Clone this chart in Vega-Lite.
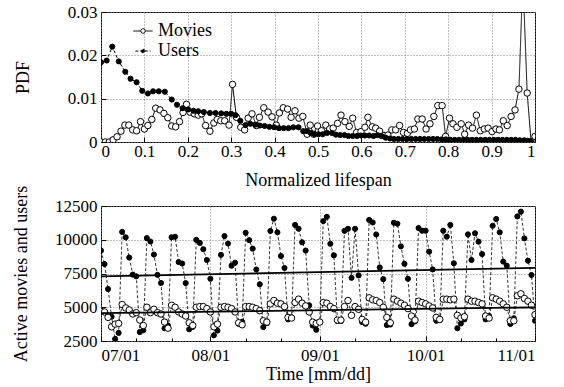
{
"$schema":"https://vega.github.io/schema/vega-lite/v6.json",
"background":"white",
"padding":{"left":12,"top":2,"right":5,"bottom":0},
"spacing":64,
"bounds":"flush",
"config":{
 "font":"Liberation Serif",
 "view":{"stroke":"black","strokeWidth":1},
 "axis":{"labelFont":"Liberation Serif","titleFont":"Liberation Serif","labelFontSize":17,"titleFontSize":18,"titleFontWeight":"normal","labelColor":"black","titleColor":"black","tickColor":"black","domain":false,"grid":true,"gridColor":"#808080","gridDash":[1,2],"gridWidth":1,"tickSize":-5,"labelPadding":9},
 "legend":{"labelFont":"Liberation Serif","labelFontSize":18,"labelColor":"black"}
},
"datasets":{
"pdf":[
{"s":"Movies","x":0,"p":0},{"s":"Movies","x":0.01,"p":0},{"s":"Movies","x":0.019,"p":0},{"s":"Movies","x":0.028,"p":0.0005},{"s":"Movies","x":0.037,"p":0.0012},{"s":"Movies","x":0.046,"p":0.0025},{"s":"Movies","x":0.055,"p":0.0039},{"s":"Movies","x":0.064,"p":0.0039},{"s":"Movies","x":0.073,"p":0.0028},{"s":"Movies","x":0.082,"p":0.0026},{"s":"Movies","x":0.091,"p":0.0047},{"s":"Movies","x":0.1,"p":0.003},{"s":"Movies","x":0.108,"p":0.0038},{"s":"Movies","x":0.117,"p":0.0052},{"s":"Movies","x":0.126,"p":0.0078},{"s":"Movies","x":0.136,"p":0.0074},{"s":"Movies","x":0.145,"p":0.0066},{"s":"Movies","x":0.154,"p":0.0056},{"s":"Movies","x":0.163,"p":0.0037},{"s":"Movies","x":0.172,"p":0.0035},{"s":"Movies","x":0.181,"p":0.0047},{"s":"Movies","x":0.189,"p":0.0068},{"s":"Movies","x":0.197,"p":0.0087},{"s":"Movies","x":0.205,"p":0.0069},{"s":"Movies","x":0.215,"p":0.0065},{"s":"Movies","x":0.224,"p":0.0062},{"s":"Movies","x":0.232,"p":0.0065},{"s":"Movies","x":0.241,"p":0.0038},{"s":"Movies","x":0.251,"p":0.0025},{"s":"Movies","x":0.26,"p":0.0044},{"s":"Movies","x":0.268,"p":0.0052},{"s":"Movies","x":0.276,"p":0.0049},{"s":"Movies","x":0.285,"p":0.0049},{"s":"Movies","x":0.295,"p":0.0039},{"s":"Movies","x":0.303,"p":0.0133},{"s":"Movies","x":0.312,"p":0.0057},{"s":"Movies","x":0.322,"p":0.0034},{"s":"Movies","x":0.331,"p":0.0028},{"s":"Movies","x":0.339,"p":0.0055},{"s":"Movies","x":0.348,"p":0.0065},{"s":"Movies","x":0.358,"p":0.0038},{"s":"Movies","x":0.365,"p":0.0057},{"s":"Movies","x":0.375,"p":0.0079},{"s":"Movies","x":0.385,"p":0.0069},{"s":"Movies","x":0.394,"p":0.0058},{"s":"Movies","x":0.404,"p":0.0039},{"s":"Movies","x":0.411,"p":0.0067},{"s":"Movies","x":0.42,"p":0.0079},{"s":"Movies","x":0.43,"p":0.0076},{"s":"Movies","x":0.438,"p":0.0057},{"s":"Movies","x":0.447,"p":0.0072},{"s":"Movies","x":0.456,"p":0.0055},{"s":"Movies","x":0.465,"p":0.0059},{"s":"Movies","x":0.475,"p":0.0018},{"s":"Movies","x":0.482,"p":0.0039},{"s":"Movies","x":0.49,"p":0.0018},{"s":"Movies","x":0.499,"p":0.0037},{"s":"Movies","x":0.508,"p":0.0026},{"s":"Movies","x":0.518,"p":0.0039},{"s":"Movies","x":0.527,"p":0.003},{"s":"Movies","x":0.535,"p":0.0032},{"s":"Movies","x":0.545,"p":0.0043},{"s":"Movies","x":0.553,"p":0.0062},{"s":"Movies","x":0.562,"p":0.0047},{"s":"Movies","x":0.572,"p":0.0036},{"s":"Movies","x":0.58,"p":0.0055},{"s":"Movies","x":0.589,"p":0.0022},{"s":"Movies","x":0.599,"p":0.0024},{"s":"Movies","x":0.608,"p":0.0034},{"s":"Movies","x":0.615,"p":0.0057},{"s":"Movies","x":0.625,"p":0.0035},{"s":"Movies","x":0.633,"p":0.0032},{"s":"Movies","x":0.642,"p":0.0025},{"s":"Movies","x":0.652,"p":0.0015},{"s":"Movies","x":0.661,"p":0.0016},{"s":"Movies","x":0.67,"p":0.0028},{"s":"Movies","x":0.679,"p":0.0028},{"s":"Movies","x":0.688,"p":0.0038},{"s":"Movies","x":0.697,"p":0.0022},{"s":"Movies","x":0.706,"p":0.002},{"s":"Movies","x":0.713,"p":0.0028},{"s":"Movies","x":0.722,"p":0.003},{"s":"Movies","x":0.73,"p":0.0053},{"s":"Movies","x":0.74,"p":0.0053},{"s":"Movies","x":0.749,"p":0.003},{"s":"Movies","x":0.758,"p":0.0042},{"s":"Movies","x":0.767,"p":0.0059},{"s":"Movies","x":0.776,"p":0.0084},{"s":"Movies","x":0.786,"p":0.0084},{"s":"Movies","x":0.794,"p":0.0013},{"s":"Movies","x":0.803,"p":0.0055},{"s":"Movies","x":0.811,"p":0.0042},{"s":"Movies","x":0.82,"p":0.0034},{"s":"Movies","x":0.83,"p":0.0042},{"s":"Movies","x":0.838,"p":0.0018},{"s":"Movies","x":0.847,"p":0.0039},{"s":"Movies","x":0.856,"p":0.0032},{"s":"Movies","x":0.865,"p":0.0062},{"s":"Movies","x":0.874,"p":0.0026},{"s":"Movies","x":0.883,"p":0.003},{"s":"Movies","x":0.892,"p":0.0032},{"s":"Movies","x":0.901,"p":0.0024},{"s":"Movies","x":0.91,"p":0.003},{"s":"Movies","x":0.918,"p":0.0028},{"s":"Movies","x":0.927,"p":0.0049},{"s":"Movies","x":0.936,"p":0.0038},{"s":"Movies","x":0.945,"p":0.0059},{"s":"Movies","x":0.954,"p":0.0074},{"s":"Movies","x":0.963,"p":0.0122},{"s":"Movies","x":0.972,"p":0.038},{"s":"Movies","x":0.982,"p":0.0113},{"s":"Movies","x":0.991,"p":0.0001},{"s":"Movies","x":1,"p":0.0013},
{"s":"Users","x":0,"p":0.0184},{"s":"Users","x":0.013,"p":0.0188},{"s":"Users","x":0.026,"p":0.022},{"s":"Users","x":0.041,"p":0.0186},{"s":"Users","x":0.056,"p":0.0162},{"s":"Users","x":0.068,"p":0.0146},{"s":"Users","x":0.082,"p":0.0138},{"s":"Users","x":0.095,"p":0.0118},{"s":"Users","x":0.108,"p":0.0112},{"s":"Users","x":0.12,"p":0.0117},{"s":"Users","x":0.133,"p":0.0117},{"s":"Users","x":0.147,"p":0.0116},{"s":"Users","x":0.163,"p":0.0098},{"s":"Users","x":0.175,"p":0.0086},{"s":"Users","x":0.188,"p":0.0078},{"s":"Users","x":0.201,"p":0.0075},{"s":"Users","x":0.213,"p":0.0072},{"s":"Users","x":0.224,"p":0.0071},{"s":"Users","x":0.237,"p":0.0069},{"s":"Users","x":0.251,"p":0.0067},{"s":"Users","x":0.264,"p":0.0067},{"s":"Users","x":0.277,"p":0.0066},{"s":"Users","x":0.289,"p":0.0065},{"s":"Users","x":0.3,"p":0.0065},{"s":"Users","x":0.31,"p":0.0062},{"s":"Users","x":0.321,"p":0.0049},{"s":"Users","x":0.333,"p":0.0039},{"s":"Users","x":0.344,"p":0.0042},{"s":"Users","x":0.355,"p":0.004},{"s":"Users","x":0.366,"p":0.0038},{"s":"Users","x":0.377,"p":0.0037},{"s":"Users","x":0.388,"p":0.0035},{"s":"Users","x":0.399,"p":0.0034},{"s":"Users","x":0.41,"p":0.0032},{"s":"Users","x":0.421,"p":0.0032},{"s":"Users","x":0.432,"p":0.0032},{"s":"Users","x":0.443,"p":0.0034},{"s":"Users","x":0.455,"p":0.0034},{"s":"Users","x":0.466,"p":0.0025},{"s":"Users","x":0.475,"p":0.0025},{"s":"Users","x":0.483,"p":0.0021},{"s":"Users","x":0.492,"p":0.0018},{"s":"Users","x":0.501,"p":0.0018},{"s":"Users","x":0.511,"p":0.0018},{"s":"Users","x":0.521,"p":0.0021},{"s":"Users","x":0.532,"p":0.0021},{"s":"Users","x":0.541,"p":0.0017},{"s":"Users","x":0.551,"p":0.0016},{"s":"Users","x":0.561,"p":0.0016},{"s":"Users","x":0.57,"p":0.0014},{"s":"Users","x":0.58,"p":0.0014},{"s":"Users","x":0.59,"p":0.0014},{"s":"Users","x":0.599,"p":0.0015},{"s":"Users","x":0.608,"p":0.0015},{"s":"Users","x":0.618,"p":0.0015},{"s":"Users","x":0.628,"p":0.0014},{"s":"Users","x":0.637,"p":0.0016},{"s":"Users","x":0.646,"p":0.0014},{"s":"Users","x":0.656,"p":0.001},{"s":"Users","x":0.666,"p":0.0008},{"s":"Users","x":0.675,"p":0.0007},{"s":"Users","x":0.685,"p":0.0007},{"s":"Users","x":0.695,"p":0.0007},{"s":"Users","x":0.705,"p":0.0007},{"s":"Users","x":0.715,"p":0.0007},{"s":"Users","x":0.725,"p":0.0007},{"s":"Users","x":0.735,"p":0.0007},{"s":"Users","x":0.745,"p":0.0007},{"s":"Users","x":0.755,"p":0.0007},{"s":"Users","x":0.765,"p":0.0007},{"s":"Users","x":0.775,"p":0.0007},{"s":"Users","x":0.785,"p":0.0006},{"s":"Users","x":0.795,"p":0.0006},{"s":"Users","x":0.805,"p":0.0005},{"s":"Users","x":0.815,"p":0.0005},{"s":"Users","x":0.825,"p":0.0005},{"s":"Users","x":0.835,"p":0.0005},{"s":"Users","x":0.845,"p":0.0005},{"s":"Users","x":0.855,"p":0.0005},{"s":"Users","x":0.865,"p":0.0005},{"s":"Users","x":0.875,"p":0.0005},{"s":"Users","x":0.885,"p":0.0005},{"s":"Users","x":0.895,"p":0.0005},{"s":"Users","x":0.905,"p":0.0005},{"s":"Users","x":0.915,"p":0.0005},{"s":"Users","x":0.925,"p":0.0005},{"s":"Users","x":0.935,"p":0.0005},{"s":"Users","x":0.945,"p":0.0005},{"s":"Users","x":0.955,"p":0.0005},{"s":"Users","x":0.965,"p":0.0004},{"s":"Users","x":0.975,"p":0.0004},{"s":"Users","x":0.983,"p":0.0003},{"s":"Users","x":0.991,"p":0}
],
"act":[
{"s":"Users","d":"2008-07-01","v":9200},{"s":"Users","d":"2008-07-02","v":8200},{"s":"Users","d":"2008-07-03","v":6350},{"s":"Users","d":"2008-07-04","v":4300},{"s":"Users","d":"2008-07-05","v":2650},{"s":"Users","d":"2008-07-06","v":3100},{"s":"Users","d":"2008-07-07","v":10580},{"s":"Users","d":"2008-07-08","v":10180},{"s":"Users","d":"2008-07-09","v":8680},{"s":"Users","d":"2008-07-10","v":7420},{"s":"Users","d":"2008-07-11","v":7290},{"s":"Users","d":"2008-07-12","v":3160},{"s":"Users","d":"2008-07-13","v":3300},{"s":"Users","d":"2008-07-14","v":10120},{"s":"Users","d":"2008-07-15","v":9870},{"s":"Users","d":"2008-07-16","v":8900},{"s":"Users","d":"2008-07-17","v":7400},{"s":"Users","d":"2008-07-18","v":6800},{"s":"Users","d":"2008-07-19","v":3440},{"s":"Users","d":"2008-07-20","v":3640},{"s":"Users","d":"2008-07-21","v":10180},{"s":"Users","d":"2008-07-22","v":10220},{"s":"Users","d":"2008-07-23","v":8350},{"s":"Users","d":"2008-07-24","v":8240},{"s":"Users","d":"2008-07-25","v":6790},{"s":"Users","d":"2008-07-26","v":3370},{"s":"Users","d":"2008-07-27","v":3540},{"s":"Users","d":"2008-07-28","v":9990},{"s":"Users","d":"2008-07-29","v":9770},{"s":"Users","d":"2008-07-30","v":9300},{"s":"Users","d":"2008-07-31","v":8500},
{"s":"Users","d":"2008-08-01","v":7110},{"s":"Users","d":"2008-08-02","v":2920},{"s":"Users","d":"2008-08-03","v":3270},{"s":"Users","d":"2008-08-04","v":8880},{"s":"Users","d":"2008-08-05","v":10270},{"s":"Users","d":"2008-08-06","v":9720},{"s":"Users","d":"2008-08-07","v":8080},{"s":"Users","d":"2008-08-08","v":8300},{"s":"Users","d":"2008-08-09","v":3780},{"s":"Users","d":"2008-08-10","v":3920},{"s":"Users","d":"2008-08-11","v":10520},{"s":"Users","d":"2008-08-12","v":9970},{"s":"Users","d":"2008-08-13","v":9340},{"s":"Users","d":"2008-08-14","v":7800},{"s":"Users","d":"2008-08-15","v":6700},{"s":"Users","d":"2008-08-16","v":3530},{"s":"Users","d":"2008-08-17","v":3820},{"s":"Users","d":"2008-08-18","v":10650},{"s":"Users","d":"2008-08-19","v":11560},{"s":"Users","d":"2008-08-20","v":10550},{"s":"Users","d":"2008-08-21","v":8800},{"s":"Users","d":"2008-08-22","v":7910},{"s":"Users","d":"2008-08-23","v":4100},{"s":"Users","d":"2008-08-24","v":4250},{"s":"Users","d":"2008-08-25","v":11100},{"s":"Users","d":"2008-08-26","v":10820},{"s":"Users","d":"2008-08-27","v":9810},{"s":"Users","d":"2008-08-28","v":9200},{"s":"Users","d":"2008-08-29","v":5150},{"s":"Users","d":"2008-08-30","v":3640},{"s":"Users","d":"2008-08-31","v":3330},
{"s":"Users","d":"2008-09-01","v":3920},{"s":"Users","d":"2008-09-02","v":11380},{"s":"Users","d":"2008-09-03","v":11700},{"s":"Users","d":"2008-09-04","v":9700},{"s":"Users","d":"2008-09-05","v":8850},{"s":"Users","d":"2008-09-06","v":3990},{"s":"Users","d":"2008-09-07","v":3990},{"s":"Users","d":"2008-09-08","v":10660},{"s":"Users","d":"2008-09-09","v":10810},{"s":"Users","d":"2008-09-10","v":7180},{"s":"Users","d":"2008-09-11","v":10810},{"s":"Users","d":"2008-09-12","v":7360},{"s":"Users","d":"2008-09-13","v":3900},{"s":"Users","d":"2008-09-14","v":3780},{"s":"Users","d":"2008-09-15","v":11470},{"s":"Users","d":"2008-09-16","v":11280},{"s":"Users","d":"2008-09-17","v":10390},{"s":"Users","d":"2008-09-18","v":7950},{"s":"Users","d":"2008-09-19","v":7080},{"s":"Users","d":"2008-09-20","v":3680},{"s":"Users","d":"2008-09-21","v":3720},{"s":"Users","d":"2008-09-22","v":11260},{"s":"Users","d":"2008-09-23","v":11190},{"s":"Users","d":"2008-09-24","v":9510},{"s":"Users","d":"2008-09-25","v":8220},{"s":"Users","d":"2008-09-26","v":7110},{"s":"Users","d":"2008-09-27","v":3750},{"s":"Users","d":"2008-09-28","v":3950},{"s":"Users","d":"2008-09-29","v":10870},{"s":"Users","d":"2008-09-30","v":10670},
{"s":"Users","d":"2008-10-01","v":10670},{"s":"Users","d":"2008-10-02","v":9120},{"s":"Users","d":"2008-10-03","v":7800},{"s":"Users","d":"2008-10-04","v":4000},{"s":"Users","d":"2008-10-05","v":4050},{"s":"Users","d":"2008-10-06","v":10670},{"s":"Users","d":"2008-10-07","v":10230},{"s":"Users","d":"2008-10-08","v":11100},{"s":"Users","d":"2008-10-09","v":8260},{"s":"Users","d":"2008-10-10","v":3450},{"s":"Users","d":"2008-10-11","v":3800},{"s":"Users","d":"2008-10-12","v":4100},{"s":"Users","d":"2008-10-13","v":10400},{"s":"Users","d":"2008-10-14","v":8500},{"s":"Users","d":"2008-10-15","v":10480},{"s":"Users","d":"2008-10-16","v":9860},{"s":"Users","d":"2008-10-17","v":8940},{"s":"Users","d":"2008-10-18","v":4100},{"s":"Users","d":"2008-10-19","v":4350},{"s":"Users","d":"2008-10-20","v":11040},{"s":"Users","d":"2008-10-21","v":11540},{"s":"Users","d":"2008-10-22","v":10550},{"s":"Users","d":"2008-10-23","v":8380},{"s":"Users","d":"2008-10-24","v":8080},{"s":"Users","d":"2008-10-25","v":3760},{"s":"Users","d":"2008-10-26","v":4180},{"s":"Users","d":"2008-10-27","v":11730},{"s":"Users","d":"2008-10-28","v":12080},{"s":"Users","d":"2008-10-29","v":10100},{"s":"Users","d":"2008-10-30","v":8450},{"s":"Users","d":"2008-10-31","v":7390},{"s":"Users","d":"2008-11-01","v":4000},
{"s":"Movies","d":"2008-07-01","v":4700},{"s":"Movies","d":"2008-07-02","v":4650},{"s":"Movies","d":"2008-07-03","v":4250},{"s":"Movies","d":"2008-07-04","v":3550},{"s":"Movies","d":"2008-07-05","v":3750},{"s":"Movies","d":"2008-07-06","v":3800},{"s":"Movies","d":"2008-07-07","v":5200},{"s":"Movies","d":"2008-07-08","v":4950},{"s":"Movies","d":"2008-07-09","v":4800},{"s":"Movies","d":"2008-07-10","v":4500},{"s":"Movies","d":"2008-07-11","v":4600},{"s":"Movies","d":"2008-07-12","v":4050},{"s":"Movies","d":"2008-07-13","v":3650},{"s":"Movies","d":"2008-07-14","v":5000},{"s":"Movies","d":"2008-07-15","v":4600},{"s":"Movies","d":"2008-07-16","v":4850},{"s":"Movies","d":"2008-07-17","v":4600},{"s":"Movies","d":"2008-07-18","v":4500},{"s":"Movies","d":"2008-07-19","v":3900},{"s":"Movies","d":"2008-07-20","v":3450},{"s":"Movies","d":"2008-07-21","v":5150},{"s":"Movies","d":"2008-07-22","v":5000},{"s":"Movies","d":"2008-07-23","v":4650},{"s":"Movies","d":"2008-07-24","v":4500},{"s":"Movies","d":"2008-07-25","v":4350},{"s":"Movies","d":"2008-07-26","v":3850},{"s":"Movies","d":"2008-07-27","v":3650},{"s":"Movies","d":"2008-07-28","v":5000},{"s":"Movies","d":"2008-07-29","v":5050},{"s":"Movies","d":"2008-07-30","v":5050},{"s":"Movies","d":"2008-07-31","v":4900},
{"s":"Movies","d":"2008-08-01","v":4650},{"s":"Movies","d":"2008-08-02","v":3550},{"s":"Movies","d":"2008-08-03","v":3750},{"s":"Movies","d":"2008-08-04","v":5000},{"s":"Movies","d":"2008-08-05","v":5050},{"s":"Movies","d":"2008-08-06","v":5000},{"s":"Movies","d":"2008-08-07","v":4900},{"s":"Movies","d":"2008-08-08","v":4650},{"s":"Movies","d":"2008-08-09","v":3850},{"s":"Movies","d":"2008-08-10","v":3700},{"s":"Movies","d":"2008-08-11","v":5050},{"s":"Movies","d":"2008-08-12","v":5050},{"s":"Movies","d":"2008-08-13","v":5000},{"s":"Movies","d":"2008-08-14","v":4900},{"s":"Movies","d":"2008-08-15","v":4750},{"s":"Movies","d":"2008-08-16","v":4000},{"s":"Movies","d":"2008-08-17","v":3900},{"s":"Movies","d":"2008-08-18","v":5250},{"s":"Movies","d":"2008-08-19","v":5500},{"s":"Movies","d":"2008-08-20","v":5300},{"s":"Movies","d":"2008-08-21","v":5250},{"s":"Movies","d":"2008-08-22","v":5050},{"s":"Movies","d":"2008-08-23","v":4250},{"s":"Movies","d":"2008-08-24","v":4200},{"s":"Movies","d":"2008-08-25","v":5350},{"s":"Movies","d":"2008-08-26","v":5600},{"s":"Movies","d":"2008-08-27","v":5300},{"s":"Movies","d":"2008-08-28","v":5100},{"s":"Movies","d":"2008-08-29","v":4650},{"s":"Movies","d":"2008-08-30","v":3900},{"s":"Movies","d":"2008-08-31","v":3800},
{"s":"Movies","d":"2008-09-01","v":3900},{"s":"Movies","d":"2008-09-02","v":5350},{"s":"Movies","d":"2008-09-03","v":5300},{"s":"Movies","d":"2008-09-04","v":5050},{"s":"Movies","d":"2008-09-05","v":4900},{"s":"Movies","d":"2008-09-06","v":4050},{"s":"Movies","d":"2008-09-07","v":4050},{"s":"Movies","d":"2008-09-08","v":5050},{"s":"Movies","d":"2008-09-09","v":5500},{"s":"Movies","d":"2008-09-10","v":4400},{"s":"Movies","d":"2008-09-11","v":5050},{"s":"Movies","d":"2008-09-12","v":4850},{"s":"Movies","d":"2008-09-13","v":4100},{"s":"Movies","d":"2008-09-14","v":3900},{"s":"Movies","d":"2008-09-15","v":5700},{"s":"Movies","d":"2008-09-16","v":5550},{"s":"Movies","d":"2008-09-17","v":5500},{"s":"Movies","d":"2008-09-18","v":5350},{"s":"Movies","d":"2008-09-19","v":5000},{"s":"Movies","d":"2008-09-20","v":4250},{"s":"Movies","d":"2008-09-21","v":3850},{"s":"Movies","d":"2008-09-22","v":5600},{"s":"Movies","d":"2008-09-23","v":5450},{"s":"Movies","d":"2008-09-24","v":5300},{"s":"Movies","d":"2008-09-25","v":5150},{"s":"Movies","d":"2008-09-26","v":4900},{"s":"Movies","d":"2008-09-27","v":4350},{"s":"Movies","d":"2008-09-28","v":4050},{"s":"Movies","d":"2008-09-29","v":5450},{"s":"Movies","d":"2008-09-30","v":5350},
{"s":"Movies","d":"2008-10-01","v":5250},{"s":"Movies","d":"2008-10-02","v":5100},{"s":"Movies","d":"2008-10-03","v":4950},{"s":"Movies","d":"2008-10-04","v":4250},{"s":"Movies","d":"2008-10-05","v":4100},{"s":"Movies","d":"2008-10-06","v":5600},{"s":"Movies","d":"2008-10-07","v":5600},{"s":"Movies","d":"2008-10-08","v":5550},{"s":"Movies","d":"2008-10-09","v":5600},{"s":"Movies","d":"2008-10-10","v":4400},{"s":"Movies","d":"2008-10-11","v":4200},{"s":"Movies","d":"2008-10-12","v":4300},{"s":"Movies","d":"2008-10-13","v":5600},{"s":"Movies","d":"2008-10-14","v":5450},{"s":"Movies","d":"2008-10-15","v":5450},{"s":"Movies","d":"2008-10-16","v":5350},{"s":"Movies","d":"2008-10-17","v":5250},{"s":"Movies","d":"2008-10-18","v":4350},{"s":"Movies","d":"2008-10-19","v":4200},{"s":"Movies","d":"2008-10-20","v":5700},{"s":"Movies","d":"2008-10-21","v":5600},{"s":"Movies","d":"2008-10-22","v":5450},{"s":"Movies","d":"2008-10-23","v":5250},{"s":"Movies","d":"2008-10-24","v":5000},{"s":"Movies","d":"2008-10-25","v":4000},{"s":"Movies","d":"2008-10-26","v":4000},{"s":"Movies","d":"2008-10-27","v":5850},{"s":"Movies","d":"2008-10-28","v":6000},{"s":"Movies","d":"2008-10-29","v":5650},{"s":"Movies","d":"2008-10-30","v":5450},{"s":"Movies","d":"2008-10-31","v":5150},{"s":"Movies","d":"2008-11-01","v":4450}
],
"trend":[
{"s":"Users","d":"2008-07-01","v":7280},{"s":"Users","d":"2008-11-01","v":7920},
{"s":"Movies","d":"2008-07-01","v":4570},{"s":"Movies","d":"2008-11-01","v":4990}
]
},
"vconcat":[
{
 "width":434,"height":130,
 "data":{"name":"pdf"},
 "encoding":{
  "x":{"field":"x","type":"quantitative","scale":{"domain":[0,1],"nice":false,"zero":false},
       "axis":{"title":"Normalized lifespan","values":[0,0.1,0.2,0.3,0.4,0.5,0.6,0.7,0.8,0.9,1],"format":".1~f","labelPadding":6,"titlePadding":12}},
  "y":{"field":"p","type":"quantitative","scale":{"domain":[0,0.03],"nice":false},
       "axis":{"title":"PDF","values":[0,0.01,0.02,0.03],"format":".2~f","titlePadding":35}}
 },
 "layer":[
  {"mark":{"type":"line","clip":true,"stroke":"black","strokeWidth":1},
   "encoding":{"strokeDash":{"field":"s","type":"nominal","scale":{"domain":["Movies","Users"],"range":[[1,0],[3,2]]},
      "legend":{"title":null,"orient":"none","legendX":33,"legendY":10,"direction":"vertical","symbolType":"M-3 0H-0.7M0.7 0H3M-0.7 0A0.7 0.7 0 1 0 0.7 0A0.7 0.7 0 1 0 -0.7 0Z","symbolSize":87,"symbolStrokeColor":"black","symbolStrokeWidth":1,"labelOffset":6,"rowPadding":2,"padding":0,"labelFontSize":18}}}},
  {"mark":{"type":"point","shape":"circle","filled":true,"clip":true,"stroke":"black","strokeWidth":1,"opacity":1},
   "encoding":{
    "fill":{"field":"s","type":"nominal","scale":{"domain":["Movies","Users"],"range":["white","black"]},
      "legend":{"title":null,"orient":"none","legendX":33,"legendY":10,"direction":"vertical","symbolType":"M-3 0H-0.7M0.7 0H3M-0.7 0A0.7 0.7 0 1 0 0.7 0A0.7 0.7 0 1 0 -0.7 0Z","symbolSize":87,"symbolStrokeColor":"black","symbolStrokeWidth":1,"labelOffset":6,"rowPadding":2,"padding":0,"labelFontSize":18}},
    "size":{"field":"s","type":"nominal","scale":{"domain":["Movies","Users"],"range":[42,26]},"legend":null}
   }}
 ]
},
{
 "width":434,"height":135,
 "encoding":{
  "x":{"field":"d","type":"temporal","scale":{"type":"utc","domain":[{"year":2008,"month":7,"date":1,"utc":true},{"year":2008,"month":11,"date":1,"utc":true}]},
       "axis":{"title":"Time [mm/dd]","titlePadding":2,"labelPadding":11,
         "values":[{"year":2008,"month":7,"date":1,"utc":true},{"year":2008,"month":7,"date":11,"utc":true},{"year":2008,"month":7,"date":21,"utc":true},{"year":2008,"month":8,"date":1,"utc":true},{"year":2008,"month":8,"date":11,"utc":true},{"year":2008,"month":8,"date":21,"utc":true},{"year":2008,"month":9,"date":1,"utc":true},{"year":2008,"month":9,"date":11,"utc":true},{"year":2008,"month":9,"date":21,"utc":true},{"year":2008,"month":10,"date":1,"utc":true},{"year":2008,"month":10,"date":11,"utc":true},{"year":2008,"month":10,"date":21,"utc":true},{"year":2008,"month":11,"date":1,"utc":true}],
         "labelExpr":"utcdate(datum.value) == 1 ? utcFormat(datum.value, '%m/%d') : ''",
         "gridOpacity":{"condition":{"test":"utcdate(datum.value) == 1","value":1},"value":0},
         "tickSize":{"condition":{"test":"utcdate(datum.value) == 1","value":-5},"value":-3}}},
  "y":{"field":"v","type":"quantitative","scale":{"domain":[2500,12500],"nice":false,"zero":false},
       "axis":{"title":"Active movies and users","values":[2500,5000,7500,10000,12500],"format":"d","titlePadding":24}}
 },
 "layer":[
  {"data":{"name":"act"},"transform":[{"filter":"datum.s === 'Users'"}],"mark":{"type":"line","stroke":"black","strokeWidth":0.8,"strokeDash":[3,2],"clip":true}},
  {"data":{"name":"act"},"transform":[{"filter":"datum.s === 'Movies'"}],"mark":{"type":"line","stroke":"black","strokeWidth":0.8,"strokeDash":[3,2],"clip":true}},
  {"data":{"name":"act"},"transform":[{"filter":"datum.s === 'Users'"}],"mark":{"type":"point","shape":"circle","filled":true,"fill":"black","stroke":"black","strokeWidth":1,"size":26,"opacity":1,"clip":true}},
  {"data":{"name":"act"},"transform":[{"filter":"datum.s === 'Movies'"}],"mark":{"type":"point","shape":"circle","filled":true,"fill":"white","stroke":"black","strokeWidth":1,"size":42,"opacity":1,"clip":true}},
  {"data":{"name":"trend"},"mark":{"type":"line","stroke":"black","strokeWidth":1.8},"encoding":{"detail":{"field":"s"}}}
 ]
}
]
}
